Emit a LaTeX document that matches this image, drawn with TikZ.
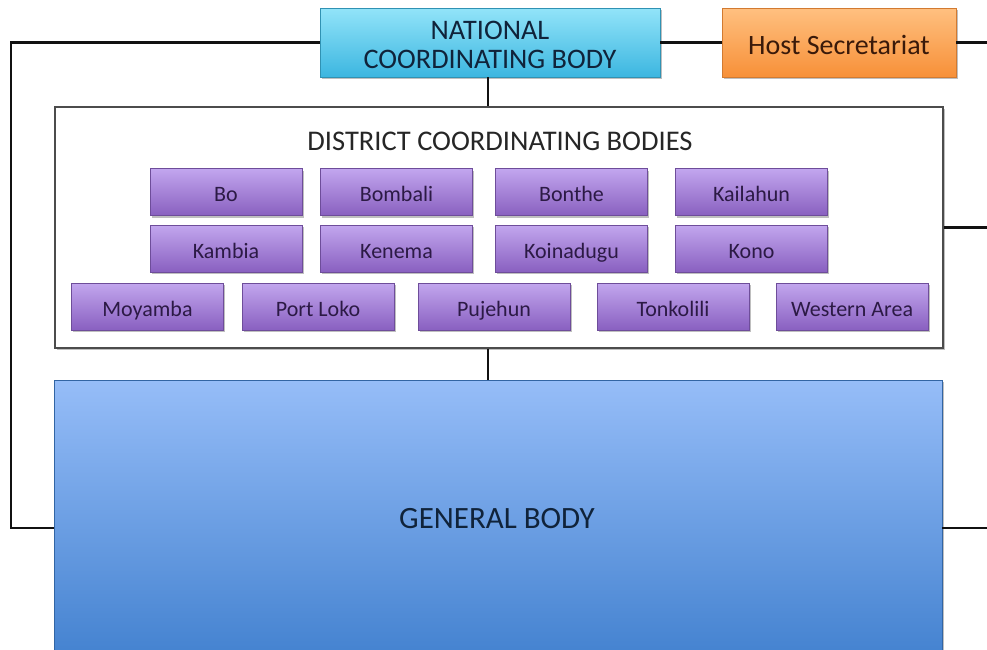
\documentclass[tikz,border=0pt]{standalone}
\usepackage{fontspec}
\setmainfont{Carlito}
\usetikzlibrary{shadows}
\definecolor{linec}{HTML}{111111}
\definecolor{cyantop}{HTML}{92E4F9}
\definecolor{cyanbot}{HTML}{3CB6E0}
\definecolor{orgtop}{HTML}{FFC080}
\definecolor{orgbot}{HTML}{F79038}
\definecolor{purtop}{HTML}{C2A6EE}
\definecolor{purbot}{HTML}{8960C0}
\definecolor{bluetop}{HTML}{96BDF8}
\definecolor{bluebot}{HTML}{3E7ECD}
\definecolor{navytext}{HTML}{10233A}
\definecolor{purtext}{HTML}{2C1A45}
\definecolor{orgtext}{HTML}{3A1A0A}
\tikzset{
  conn/.style={draw=linec, line width=2.6pt},
  softshadow/.style={drop shadow={shadow xshift=1.5pt, shadow yshift=-2pt, opacity=0.25, fill=black}},
  natbox/.style={rectangle, minimum width=340pt, minimum height=69pt, top color=cyantop, bottom color=cyanbot, draw=cyanbot!80!black, line width=0.4pt, softshadow, text=navytext},
  hostbox/.style={rectangle, minimum width=234pt, minimum height=69pt, inner ysep=0pt, top color=orgtop, bottom color=orgbot, draw=orgbot!85!black, line width=0.4pt, softshadow, text=orgtext, text height=23pt, text depth=0pt, font=\fontsize{28}{32}\selectfont},
  distbox/.style={rectangle, minimum width=888pt, minimum height=241pt, fill=white, draw=black!70, line width=1.2pt, softshadow},
  dbox/.style={rectangle, minimum width=152pt, minimum height=47pt, inner ysep=0pt, top color=purtop, bottom color=purbot, draw=purbot!80!black, line width=0.4pt, softshadow, text=purtext, text height=19pt, text depth=0pt, font=\fontsize{22}{26}\selectfont},
  genbox/.style={rectangle, minimum width=888pt, minimum height=296pt, top color=bluetop, bottom color=bluebot, draw=bluebot!80!black, line width=0.6pt, softshadow},
}
\begin{document}
\begin{tikzpicture}[x=1pt,y=-1pt]
\useasboundingbox (0,0) rectangle (987,649);
\fill[white] (0,0) rectangle (987,649);
% nodes
\node[natbox] (nat) at (490,42.5) {};
\node[text=navytext, align=center, font=\fontsize{28.3}{29}\selectfont] (nattext) at (490,45) {NATIONAL\\COORDINATING BODY};
\node[hostbox] (host) at (839,42.5) {Host Secretariat};
\node[distbox] (dist) at (499,227.5) {};
\node[genbox] (gen) at (498,528) {};
\node[text=navytext, font=\fontsize{31}{36}\selectfont] (gentitle) at (497,519) {GENERAL BODY};
\node[text=black!85, font=\fontsize{28.5}{32}\selectfont] (disttitle) at (500,141) {DISTRICT COORDINATING BODIES};
% district boxes
\node[dbox] (bo) at (226,192) {Bo};
\node[dbox] (bombali) at (396.5,192) {Bombali};
\node[dbox] (bonthe) at (571.5,192) {Bonthe};
\node[dbox] (kailahun) at (751.5,192) {Kailahun};
\node[dbox] (kambia) at (226,248.5) {Kambia};
\node[dbox] (kenema) at (396.5,248.5) {Kenema};
\node[dbox] (koinadugu) at (571.5,248.5) {Koinadugu};
\node[dbox] (kono) at (751.5,248.5) {Kono};
\node[dbox] (moyamba) at (147.5,306.5) {Moyamba};
\node[dbox] (portloko) at (318,306.5) {Port Loko};
\node[dbox] (pujehun) at (494,306.5) {Pujehun};
\node[dbox] (tonkolili) at (673,306.5) {Tonkolili};
\node[dbox] (western) at (852,306.5) {Western Area};
% free ends
\coordinate (leftrail) at (11,0);
\coordinate (vx) at (488,0);
\coordinate (rtop) at (990,42.5);
\coordinate (rmid) at (990,227.5);
\coordinate (rbot) at (990,528);
% connectors
\draw[conn] (nat.west) -- (nat.west -| leftrail) |- (gen.west);
\draw[conn] (nat.east) -- (host.west);
\draw[conn] (host.east) -- (rtop);
\draw[conn] (dist.east) -- (rmid);
\draw[conn] (gen.east) -- (rbot);
\draw[conn] (nat.south -| vx) -- (dist.north -| vx);
\draw[conn] (dist.south -| vx) -- (gen.north -| vx);
\end{tikzpicture}
\end{document}
